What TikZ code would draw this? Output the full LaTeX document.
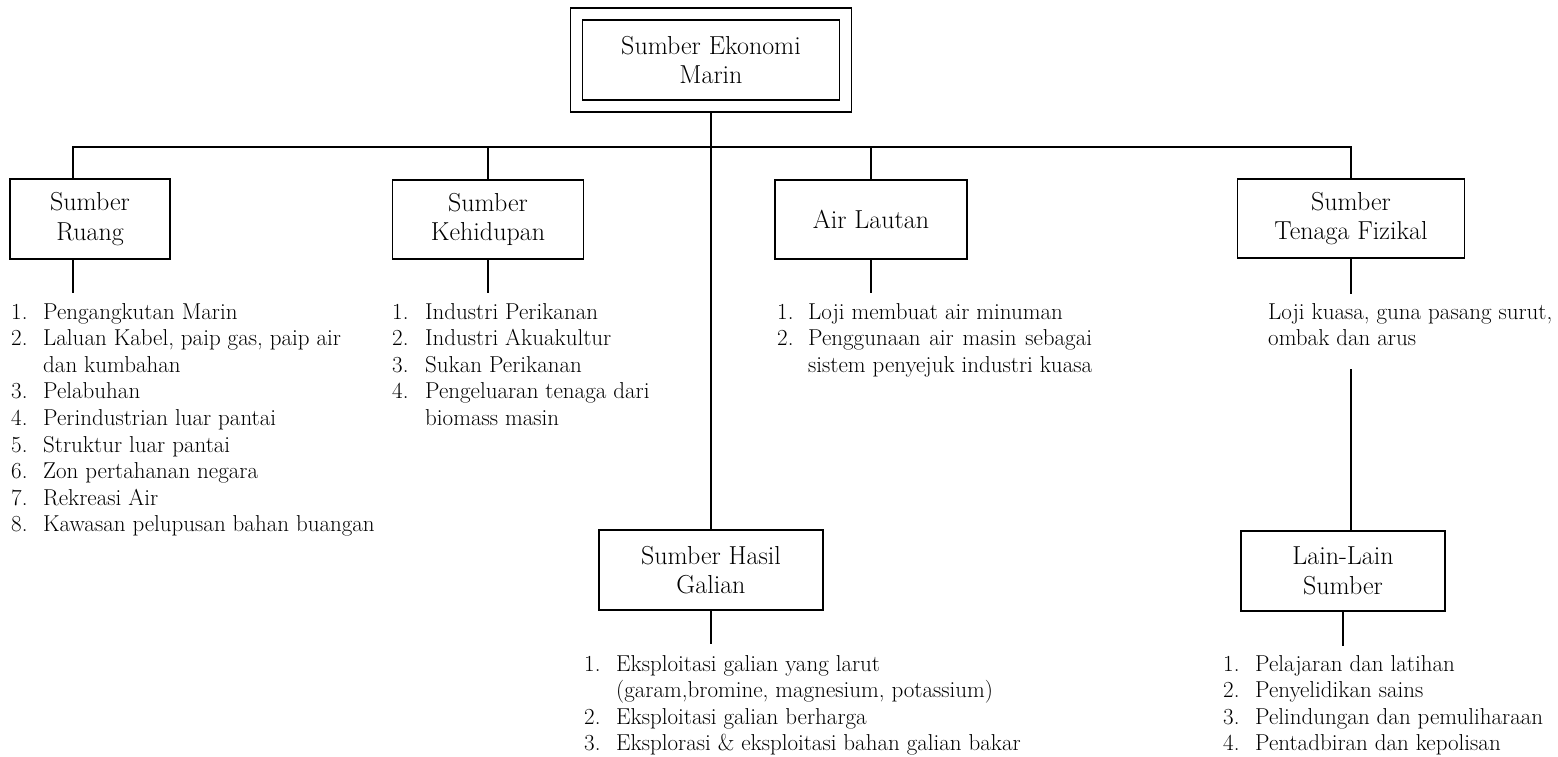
\documentclass[tikz,border=0pt]{standalone}
\newcommand\mytitlefont{\fontsize{26}{29.5}\selectfont}
\newcommand\mylistfont{\fontsize{23}{26.6}\selectfont}
\newlength\airw
\begin{document}
\begin{tikzpicture}[x=1pt,y=-1pt,
  box/.style={draw,line width=1.6pt,inner sep=0pt,align=center,font=\mytitlefont},
  conn/.style={line width=1.7pt},
  lst/.style={anchor=base west,inner sep=0pt,font=\mylistfont}]
\useasboundingbox (0,0) rectangle (1558,757);
\fill[white] (0,0) rectangle (1558,757);

% title boxes
\node[box,minimum width=281pt,minimum height=104pt] (topout) at (711,60) {};
\node[box,minimum width=257pt,minimum height=80pt] (top) at (711,60) {Sumber Ekonomi\\Marin};
\node[box,minimum width=160pt,minimum height=80pt] (ruang) at (90,219) {Sumber\\Ruang};
\node[box,minimum width=191pt,minimum height=79pt] (keh) at (488,219.5) {Sumber\\Kehidupan};
\node[box,minimum width=192pt,minimum height=79pt] (air) at (871,219.5) {Air Lautan};
\node[box,minimum width=227pt,minimum height=79pt] (ten) at (1351,218.5) {Sumber\\Tenaga Fizikal};
\node[box,minimum width=224pt,minimum height=80pt] (hasil) at (711,570) {Sumber Hasil\\Galian};
\node[box,minimum width=204pt,minimum height=80pt] (lain) at (1343,571) {Lain-Lain\\Sumber};

% connectors
\coordinate (bus) at (711,147);
\coordinate (tenlow) at (1351,369);
\draw[conn] (topout.south) -- (hasil.north);
\draw[conn] ([xshift=-17pt]ruang.north) |- (bus) -| (ten.north);
\draw[conn] (keh.north) -- (keh.north |- bus);
\draw[conn] (air.north) -- (air.north |- bus);
\draw[conn] ([xshift=-17pt]ruang.south) -- ++(0,33);
\draw[conn] (keh.south) -- ++(0,33);
\draw[conn] (air.south) -- ++(0,33);
\draw[conn] (ten.south) -- ++(0,35);
\draw[conn] (tenlow) -- (tenlow |- lain.north);
\draw[conn] (hasil.south) -- ++(0,33);
\draw[conn] (lain.south) -- ++(0,34);

% lists
\node[lst] (lruang) at (11,319) {\begin{tabular}[t]{@{}p{32pt}@{}l@{}}
1. & Pengangkutan Marin\\
2. & Laluan Kabel, paip gas, paip air\\
   & dan kumbahan\\
3. & Pelabuhan\\
4. & Perindustrian luar pantai\\
5. & Struktur luar pantai\\
6. & Zon pertahanan negara\\
7. & Rekreasi Air\\
8. & Kawasan pelupusan bahan buangan
\end{tabular}};

\node[lst] (lkeh) at (392,319) {\begin{tabular}[t]{@{}p{33pt}@{}l@{}}
1. & Industri Perikanan\\
2. & Industri Akuakultur\\
3. & Sukan Perikanan\\
4. & Pengeluaran tenaga dari\\
   & biomass masin
\end{tabular}};

\node[lst] (lair) at (777,319) {\settowidth{\airw}{sistem penyejuk industri kuasa}\begin{tabular}[t]{@{}p{31pt}@{}l@{}}
1. & Loji membuat air minuman\\
2. & \makebox[\airw][s]{Penggunaan air masin sebagai}\\
   & sistem penyejuk industri kuasa
\end{tabular}};

\node[lst] (lten) at (1268,319) {\begin{tabular}[t]{@{}l@{}}
Loji kuasa, guna pasang surut,\\
ombak dan arus
\end{tabular}};

\node[lst] (lhasil) at (584,671) {\begin{tabular}[t]{@{}p{32pt}@{}l@{}}
1. & Eksploitasi galian yang larut\\
   & (garam,bromine, magnesium, potassium)\\
2. & Eksploitasi galian berharga\\
3. & Eksplorasi \& eksploitasi bahan galian bakar
\end{tabular}};

\node[lst] (llain) at (1223,671) {\begin{tabular}[t]{@{}p{32pt}@{}l@{}}
1. & Pelajaran dan latihan\\
2. & Penyelidikan sains\\
3. & Pelindungan dan pemuliharaan\\
4. & Pentadbiran dan kepolisan
\end{tabular}};
\end{tikzpicture}
\end{document}
